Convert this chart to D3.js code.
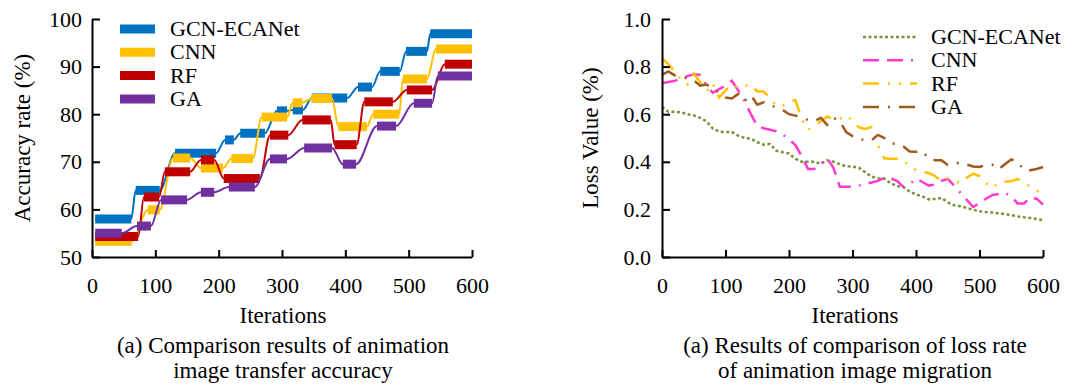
<!DOCTYPE html>
<meta charset="utf-8">
<style>
body {
  margin: 0;
  background: #fff;
}
text {
  font-family: 'Liberation Serif', 'Times New Roman', serif;
  font-size: 23px;
  fill: #000;
}
.axis path, .axis line {
  stroke: #000;
  stroke-width: 2px;
}
.axis text {
  font-family: 'Liberation Serif', 'Times New Roman', serif;
  font-size: 22px;
}
.legend text {
  font-size: 22px;
}
</style>
<body>
<div id="chart"></div>
<script src="https://cdn.jsdelivr.net/npm/d3@7"></script>
<script>
var width = 1071,
    height = 389;

// ---- left chart: accuracy, each step is [from iteration, to iteration, value]
var accNames = ["GCN-ECANet", "CNN", "RF", "GA"];
var accColors = ["#0070C0", "#FFC000", "#C00000", "#7030A0"];

var accGcn = [[5,62,58],[69,107,64],[131,196,71.8],[210,224,74.6],[234,273,76],[292,308,80.7],
  [317,333,80.9],[347,403,83.4],[420,442,85.7],[455,486,89],[496,529,93.2],[534,600,96.9]];
var accCnn = [[5,63,53.3],[88,107,59.9],[128,155,70.8],[172,207,68.7],[220,254,70.7],[268,308,79.4],
  [317,332,82.4],[347,379,83.3],[389,434,77.4],[444,485,80],[491,529,87.4],[543,600,93.7]];
var accRf = [[5,73,54.3],[82,106,62.6],[115,155,67.9],[172,193,70.4],[208,265,66.5],[281,310,75.6],
  [332,377,78.8],[383,418,73.6],[430,475,82.6],[497,537,85.1],[557,600,90.5]];
var accGa = [[5,47,55],[71,93,56.5],[109,150,62],[172,193,63.6],[216,257,64.7],[281,308,70.6],
  [335,379,72.9],[396,417,69.5],[450,480,77.5],[508,537,82.3],[546,600,88]];
var accSeries = [accGcn, accCnn, accRf, accGa];

var accTicks = [50, 60, 70, 80, 90, 100];
var iterTicks = [0, 100, 200, 300, 400, 500, 600];

// ---- right chart: loss value
var lossNames = ["GCN-ECANet", "CNN", "RF", "GA"];
var lossColors = ["#77933C", "#FF3ACD", "#FFC000", "#9E5A1E"];
var lossDash = ["3,2.5", "16,8,16,8,2,8", "16,9,2,9,2,9", "16,9,2,9"];

var lossIter = [0,10,20,30,40,50,60,70,80,90,100,110,120,130,140,150,160,170,180,190,200,
  210,220,230,240,250,260,270,280,290,300,310,320,330,340,350,360,370,380,390,400,
  410,420,430,440,450,460,470,480,490,500,510,520,530,540,550,560,570,580,590,600];

var lossGcn = [0.63,0.61,0.61,0.608,0.60,0.595,0.585,0.57,0.54,0.527,0.525,0.525,0.51,0.50,0.497,
  0.482,0.472,0.475,0.447,0.44,0.435,0.413,0.40,0.40,0.40,0.392,0.406,0.40,0.39,0.381,0.38,
  0.375,0.356,0.338,0.33,0.33,0.31,0.298,0.294,0.275,0.262,0.255,0.242,0.244,0.248,0.23,
  0.217,0.213,0.206,0.199,0.192,0.189,0.187,0.184,0.18,0.176,0.171,0.167,0.164,0.16,0.155];
var lossCnn = [0.73,0.735,0.74,0.75,0.76,0.768,0.765,0.72,0.69,0.705,0.72,0.74,0.70,0.655,0.60,
  0.55,0.541,0.535,0.528,0.515,0.495,0.47,0.425,0.37,0.37,0.39,0.415,0.375,0.295,0.295,0.295,
  0.30,0.307,0.313,0.32,0.333,0.33,0.32,0.295,0.305,0.33,0.315,0.30,0.305,0.32,0.328,
  0.30,0.27,0.24,0.21,0.226,0.245,0.26,0.265,0.27,0.255,0.225,0.225,0.25,0.245,0.22];
var lossRf = [0.835,0.81,0.78,0.745,0.725,0.77,0.735,0.695,0.73,0.67,0.70,0.725,0.712,0.72,0.725,
  0.695,0.695,0.67,0.635,0.635,0.65,0.66,0.58,0.535,0.55,0.57,0.59,0.58,0.58,0.595,0.573,
  0.545,0.538,0.546,0.47,0.415,0.413,0.413,0.408,0.38,0.365,0.358,0.353,0.34,0.32,0.33,
  0.32,0.31,0.333,0.35,0.34,0.31,0.29,0.312,0.316,0.318,0.328,0.31,0.297,0.28,0.26];
var lossGa = [0.765,0.78,0.763,0.758,0.75,0.742,0.72,0.725,0.71,0.688,0.67,0.666,0.685,0.655,0.68,
  0.64,0.65,0.638,0.628,0.618,0.60,0.594,0.588,0.575,0.57,0.585,0.555,0.585,0.57,0.525,0.508,
  0.497,0.49,0.49,0.513,0.50,0.478,0.475,0.465,0.443,0.442,0.445,0.413,0.407,0.407,0.387,
  0.392,0.397,0.388,0.38,0.378,0.387,0.388,0.368,0.39,0.41,0.40,0.365,0.365,0.37,0.378];
var lossSeries = [lossGcn, lossCnn, lossRf, lossGa];

var lossTicks = [0, 0.2, 0.4, 0.6, 0.8, 1.0];

var svg = d3.select("#chart").append("svg")
    .attr("width", width)
    .attr("height", height);

// ================= left chart =================
var x1 = d3.scaleLinear().domain([0, 600]).range([92, 472]);
var y1 = d3.scaleLinear().domain([50, 100]).range([257, 19]);

var thin = d3.line()
    .x(function(d) { return x1(d[0]); })
    .y(function(d) { return y1(d[1]); })
    .curve(d3.curveMonotoneX);

accSeries.forEach(function(steps, i) {
  var pts = [];
  steps.forEach(function(s) { pts.push([s[0], s[2]]); pts.push([s[1], s[2]]); });
  var g = svg.append("g");
  g.append("path")
      .attr("d", thin(pts))
      .attr("fill", "none")
      .attr("stroke", accColors[i])
      .attr("stroke-width", 2);
  g.selectAll("line")
      .data(steps)
    .enter().append("line")
      .attr("x1", function(d) { return x1(d[0]); })
      .attr("x2", function(d) { return x1(d[1]); })
      .attr("y1", function(d) { return y1(d[2]); })
      .attr("y2", function(d) { return y1(d[2]); })
      .attr("stroke", accColors[i])
      .attr("stroke-width", 9);
});

svg.append("g")
    .attr("class", "axis")
    .attr("transform", "translate(0,257)")
    .call(d3.axisBottom(x1).tickValues(iterTicks).tickSize(-7).tickSizeOuter(0).tickPadding(20));

svg.append("g")
    .attr("class", "axis")
    .attr("transform", "translate(92,0)")
    .call(d3.axisLeft(y1).tickValues(accTicks).tickSize(-8).tickSizeOuter(0).tickPadding(10));

// legend
var leg1 = svg.append("g").attr("class", "legend");
accNames.forEach(function(n, i) {
  var yy = 29 + i * 23.3;
  leg1.append("line")
      .attr("x1", 120).attr("x2", 155)
      .attr("y1", yy).attr("y2", yy)
      .attr("stroke", accColors[i])
      .attr("stroke-width", 9);
  leg1.append("text")
      .attr("x", 170).attr("y", yy + 7)
      .text(n);
});

svg.append("text")
    .attr("transform", "translate(30,138) rotate(-90)")
    .attr("text-anchor", "middle")
    .text("Accuracy rate (%)");
svg.append("text").attr("x", 283).attr("y", 323).attr("text-anchor", "middle").text("Iterations");
svg.append("text").attr("x", 283).attr("y", 353).attr("text-anchor", "middle").text("(a) Comparison results of animation");
svg.append("text").attr("x", 283).attr("y", 378).attr("text-anchor", "middle").text("image transfer accuracy");

// ================= right chart =================
var x2 = d3.scaleLinear().domain([0, 600]).range([662, 1043]);
var y2 = d3.scaleLinear().domain([0, 1]).range([257, 19]);

lossSeries.forEach(function(vals, i) {
  var line = d3.line()
      .x(function(d, j) { return x2(lossIter[j]); })
      .y(function(d) { return y2(d); });
  svg.append("path")
      .attr("d", line(vals))
      .attr("fill", "none")
      .attr("stroke", lossColors[i])
      .attr("stroke-width", 2.5)
      .attr("stroke-dasharray", lossDash[i]);
});

svg.append("g")
    .attr("class", "axis")
    .attr("transform", "translate(0,257)")
    .call(d3.axisBottom(x2).tickValues(iterTicks).tickSize(-7).tickSizeOuter(0).tickPadding(20));

svg.append("g")
    .attr("class", "axis")
    .attr("transform", "translate(662,0)")
    .call(d3.axisLeft(y2).tickValues(lossTicks).tickFormat(d3.format(".1f")).tickSize(-8).tickSizeOuter(0).tickPadding(11));

var leg2 = svg.append("g").attr("class", "legend");
lossNames.forEach(function(n, i) {
  var yy = 37 + i * 23.3;
  leg2.append("line")
      .attr("x1", 863).attr("x2", 917)
      .attr("y1", yy).attr("y2", yy)
      .attr("stroke", lossColors[i])
      .attr("stroke-width", 2.5)
      .attr("stroke-dasharray", lossDash[i]);
  leg2.append("text")
      .attr("x", 931).attr("y", yy + 7)
      .text(n);
});

svg.append("text")
    .attr("transform", "translate(598,138) rotate(-90)")
    .attr("text-anchor", "middle")
    .text("Loss Value (%)");
svg.append("text").attr("x", 855).attr("y", 323).attr("text-anchor", "middle").text("Iterations");
svg.append("text").attr("x", 855).attr("y", 353).attr("text-anchor", "middle").text("(a) Results of comparison of loss rate");
svg.append("text").attr("x", 855).attr("y", 378).attr("text-anchor", "middle").text("of animation image migration");
</script>
</body>
